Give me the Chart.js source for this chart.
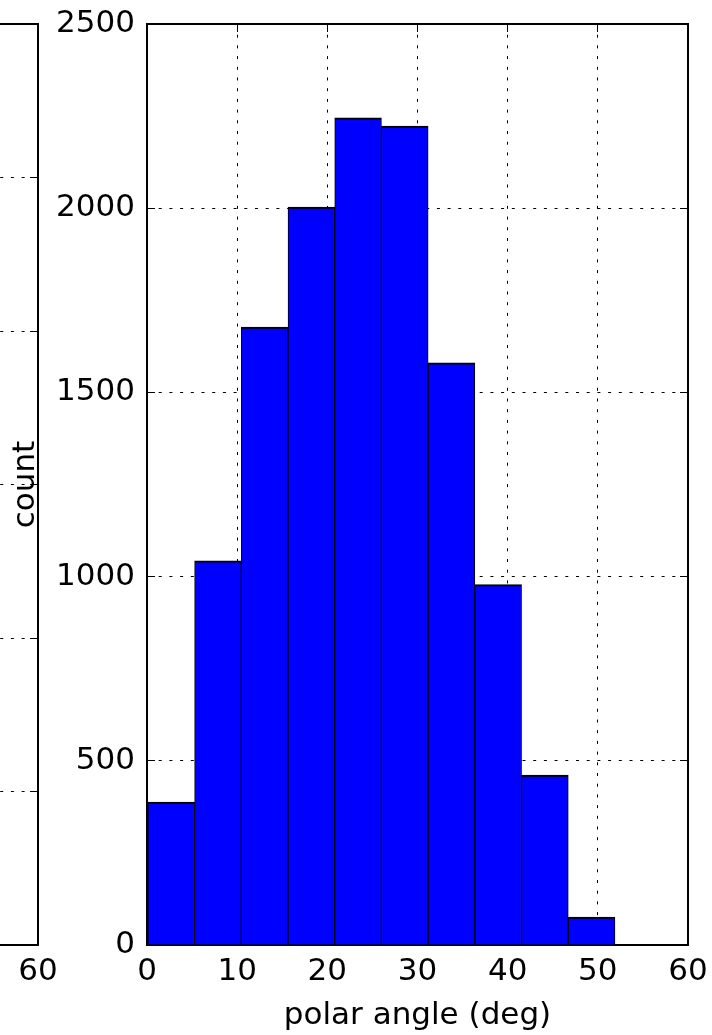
<!DOCTYPE html>
<html>
<head>
<meta charset="utf-8">
<script src="https://cdn.jsdelivr.net/npm/chart.js@4/dist/chart.umd.min.js"></script>
<style>
  html, body { margin: 0; padding: 0; background: #fff; overflow: hidden; }
  #wrap { position: relative; width: 712px; height: 1035px; overflow: hidden; }
  canvas { position: absolute; top: 0; }
  #leftChart { left: -700px; }
  #mainChart { left: 0; }
</style>
</head>
<body>
<div id="wrap">
  <canvas id="leftChart" width="760" height="1035"></canvas>
  <canvas id="mainChart" width="712" height="1035"></canvas>
</div>
<script>
// histogram of polar angle
let binEdges = [0.1, 5.28, 10.46, 15.64, 20.82, 26.0, 31.18, 36.36, 41.54, 46.72, 51.9];
let counts = [388, 1043, 1677, 2003, 2245, 2223, 1580, 978, 461, 76];
let xTicks = [0, 10, 20, 30, 40, 50, 60];
let yTicks = [0, 500, 1000, 1500, 2000, 2500];

// neighbour panel, only its right edge is in view
let leftXTicks = [0, 10, 20, 30, 40, 50, 60];
let leftYTicks = [0, 200, 400, 600, 800, 1000, 1200];
let leftCounts = [];

Chart.defaults.font.family = 'DejaVu Sans';
Chart.defaults.font.size = 31;
Chart.defaults.color = '#000';

let dotted = [3, 7.7];

function fixTicks(list) {
    return function (scale) {
        scale.ticks = list.map(v => ({ value: v }));
    };
}

// force the box size and drop the label overflow padding
function fitTo(prop, size) {
    return function (s) {
        s[prop] = size;
        s.paddingTop = 0;
        s.paddingBottom = 0;
        s.paddingLeft = 0;
        s.paddingRight = 0;
    };
}

function gridOpts(onArea) {
    return {
        display: true,
        drawOnChartArea: onArea,
        color: '#000',
        lineWidth: 1,
        drawTicks: true,
        tickLength: -8,
        tickColor: '#000',
        tickWidth: 1,
        tickBorderDash: [],
        offset: false
    };
}

let borderOpts = { display: true, color: '#000', width: 2, dash: dotted };

function histData(edges, vals) {
    let pts = [];
    for (let i = 0; i < vals.length; i++) {
        pts.push({ x: (edges[i] + edges[i + 1]) / 2, y: vals[i] });
    }
    return pts;
}

function plainNum(v) {
    return String(v);
}

function buildScales(xt, yt, xTitle, yTitle, yWidth) {
    return {
        x: {
            type: 'linear', position: 'bottom', offset: false, z: 1,
            min: xt[0], max: xt[xt.length - 1],
            afterBuildTicks: fixTicks(xt),
            afterFit: fitTo('height', 90),
            grid: gridOpts(true),
            border: borderOpts,
            ticks: { padding: 16, maxRotation: 0, autoSkip: false, callback: plainNum },
            title: { display: !!xTitle, text: xTitle, padding: { top: 0, bottom: 0 } }
        },
        y: {
            type: 'linear', position: 'left', z: 1,
            min: yt[0], max: yt[yt.length - 1],
            afterBuildTicks: fixTicks(yt),
            afterFit: fitTo('width', yWidth),
            grid: gridOpts(true),
            border: borderOpts,
            ticks: { padding: 20, autoSkip: false, callback: plainNum },
            title: { display: !!yTitle, text: yTitle, padding: { top: 7.5, bottom: 0 } }
        },
        xTop: {
            type: 'linear', position: 'top', offset: false, z: 1,
            min: xt[0], max: xt[xt.length - 1],
            afterBuildTicks: fixTicks(xt),
            afterFit: fitTo('height', 0),
            grid: gridOpts(false),
            border: borderOpts,
            ticks: { display: false }
        },
        yRight: {
            type: 'linear', position: 'right', z: 1,
            min: yt[0], max: yt[yt.length - 1],
            afterBuildTicks: fixTicks(yt),
            afterFit: fitTo('width', 0),
            grid: gridOpts(false),
            border: borderOpts,
            ticks: { display: false }
        }
    };
}

function makeHist(id, edges, vals, xt, yt, xTitle, yTitle, yWidth, padRight) {
    let ctx = document.getElementById(id).getContext('2d');
    return new Chart(ctx, {
        type: 'bar',
        data: {
            datasets: [{
                data: histData(edges, vals),
                backgroundColor: '#0000ff',
                borderColor: '#000',
                borderWidth: { top: 2, left: 1, right: 1, bottom: 0 },
                borderSkipped: 'start',
                barPercentage: 1,
                categoryPercentage: 1,
                xAxisID: 'x',
                yAxisID: 'y'
            }]
        },
        options: {
            responsive: false,
            animation: false,
            devicePixelRatio: 1,
            layout: { autoPadding: false, padding: { top: 24, right: padRight, left: 0, bottom: 0 } },
            plugins: { legend: { display: false }, tooltip: { enabled: false } },
            scales: buildScales(xt, yt, xTitle, yTitle, yWidth)
        }
    });
}

makeHist('leftChart', [], leftCounts, leftXTicks, leftYTicks, '', '', 100, 22);
makeHist('mainChart', binEdges, counts, xTicks, yTicks, 'polar angle (deg)', 'count', 147, 24);
</script>
</body>
</html>
